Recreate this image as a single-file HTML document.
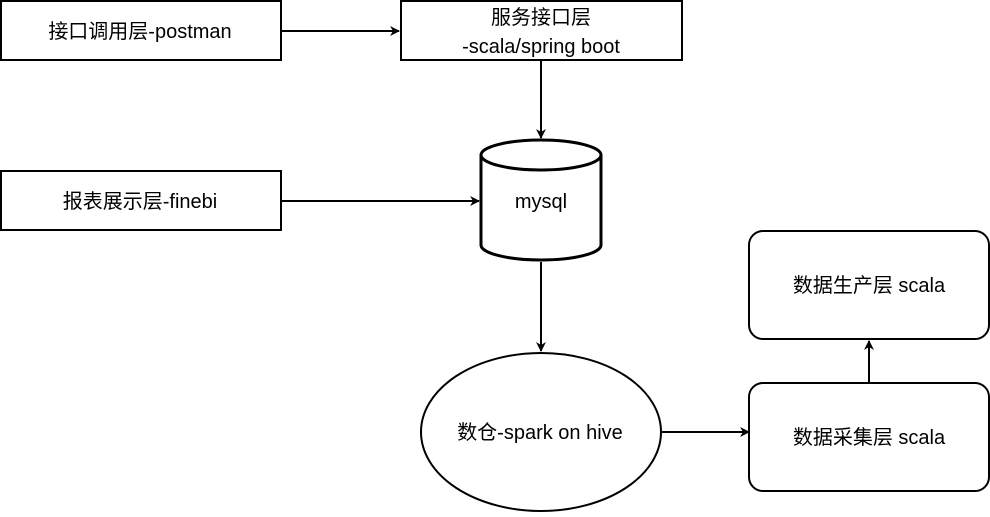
<!DOCTYPE html>
<html><head><meta charset="utf-8"><style>
body{margin:0;background:#fff;}
text{font-family:"Liberation Sans","Noto Sans CJK SC",sans-serif;font-size:20px;fill:#000;}
</style></head><body>
<svg width="990" height="512" viewBox="0 0 990 512" xmlns="http://www.w3.org/2000/svg">
<defs><marker id="a" markerWidth="10" markerHeight="10" refX="9" refY="5" orient="auto" markerUnits="userSpaceOnUse"><path d="M0,0 L10,5 L0,10 L3,5 Z" fill="#000"/></marker></defs>
<g fill="#fff" stroke="#000" stroke-width="2">
<rect x="1" y="1" width="280" height="59"/>
<rect x="401" y="1" width="281" height="59"/>
<rect x="1" y="171" width="280" height="59"/>
<rect x="749" y="231" width="240" height="108" rx="14"/>
<rect x="749" y="383" width="240" height="108" rx="14"/>
<ellipse cx="541" cy="432" rx="120" ry="79"/>
</g>
<g fill="#fff" stroke="#000" stroke-width="3">
<path d="M481,155 L481,245 A60,15 0 0 0 601,245 L601,155 A60,15 0 0 0 481,155 Z"/>
<path d="M481,155 A60,15 0 0 0 601,155" fill="none"/>
</g>
<g stroke="#000" stroke-width="2" fill="none" marker-end="url(#a)">
<line x1="282" y1="31" x2="399" y2="31"/>
<line x1="541" y1="61" x2="541" y2="138"/>
<line x1="282" y1="201" x2="479" y2="201"/>
<line x1="541" y1="262" x2="541" y2="351"/>
<line x1="662" y1="432" x2="749" y2="432"/>
<line x1="869" y1="383" x2="869" y2="341"/>
</g>
<g text-anchor="middle">
<text x="140" y="38">接口调用层-postman</text>
<text x="541" y="24">服务接口层</text>
<text x="541" y="53">-scala/spring boot</text>
<text x="140" y="208">报表展示层-finebi</text>
<text x="541" y="208">mysql</text>
<text x="869" y="292">数据生产层 scala</text>
<text x="869" y="444">数据采集层 scala</text>
<text x="540" y="439">数仓-spark on hive</text>
</g>
</svg>
</body></html>
